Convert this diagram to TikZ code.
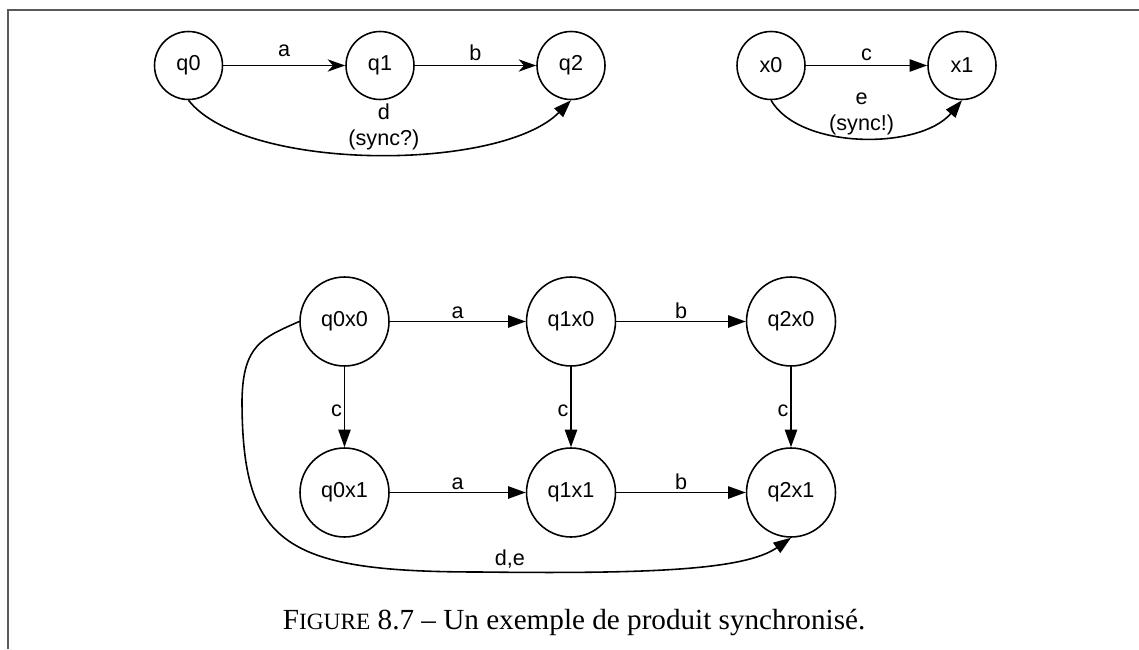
\documentclass[tikz,border=0pt]{standalone}
\usepackage{fontspec}
\setmainfont{Liberation Sans}
\newfontfamily\capfont[Ligatures=TeX]{Liberation Serif}
\usetikzlibrary{arrows.meta}

\begin{document}
\begin{tikzpicture}[x=0.02cm, y=-0.02cm, line width=0.9pt,
        >={Triangle[length=10pt,width=7pt]},
        every node/.style={font=\fontsize{12.3}{14.8}\selectfont},
        state/.style={circle, draw, minimum size=1.36cm, inner sep=0pt},
        pstate/.style={state, minimum size=1.78cm},
        lbl/.style={inner sep=1pt, align=center}]
    \useasboundingbox (0,0) rectangle (1139,649);
    \draw[black!65, line width=0.8pt] (8,649) -- (8,10) -- (1139,10);

    % les deux automates
    \node[state] (q0) at (188.5,65.5) {q0};
    \node[state] (q1) at (380,65.5) {q1};
    \node[state] (q2) at (571,65.5) {q2};
    \node[state] (x0) at (771,65.5) {x0};
    \node[state] (x1) at (962,65.5) {x1};

    \draw[-{Stealth[length=10pt,width=7pt,inset=3pt]}] (q0) -- node[lbl, above=3.5pt] {a} (q1);
    \draw[-{Stealth[length=10pt,width=7pt,inset=3pt]}] (q1) -- node[lbl, above=1pt] {b} (q2);
    \draw[->] (q0.south) .. controls (245,172) and (500,172) ..
        node[lbl, pos=0.52, above=1pt] {d\\(sync?)} (q2.south);
    \draw[->] (x0) -- node[lbl, above=1pt] {c} (x1);
    \draw[->] (x0.south) .. controls (800,150) and (920,150) ..
        node[lbl, pos=0.5, above=0pt] {e\\(sync!)} (x1.south);

    % le produit
    \node[pstate] (q0x0) at (344.5,321.5) {q0x0};
    \node[pstate] (q1x0) at (571,321.5) {q1x0};
    \node[pstate] (q2x0) at (791,321.5) {q2x0};
    \node[pstate] (q0x1) at (344.5,492.5) {q0x1};
    \node[pstate] (q1x1) at (571,492.5) {q1x1};
    \node[pstate] (q2x1) at (791,492.5) {q2x1};

    \draw[->] (q0x0) -- node[lbl, above] {a} (q1x0);
    \draw[->] (q1x0) -- node[lbl, above] {b} (q2x0);
    \draw[->] (q0x1) -- node[lbl, above] {a} (q1x1);
    \draw[->] (q1x1) -- node[lbl, above] {b} (q2x1);
    \draw[->] (q0x0) -- node[lbl, left, pos=0.55] {c} (q0x1);
    \draw[->] (q1x0) -- node[lbl, left, pos=0.55] {c} (q1x1);
    \draw[->] (q2x0) -- node[lbl, left, pos=0.55] {c} (q2x1);
    \draw[->] (q0x0.west) .. controls (262,338) and (243,345) .. (242,400)
        .. controls (242,545) and (285,572) .. (480,572)
        .. controls (650,574) and (745,570) .. node[lbl, pos=0.06, above=1pt] {d,e} (q2x1.south);

    \node[anchor=base west, inner sep=0pt, font=\capfont\fontsize{16.6}{20}\selectfont] (legende)
        at (282,629) {F{\fontsize{13.3}{16}\selectfont IGURE} 8.7 – Un exemple de produit synchronisé.};
\end{tikzpicture}
\end{document}
